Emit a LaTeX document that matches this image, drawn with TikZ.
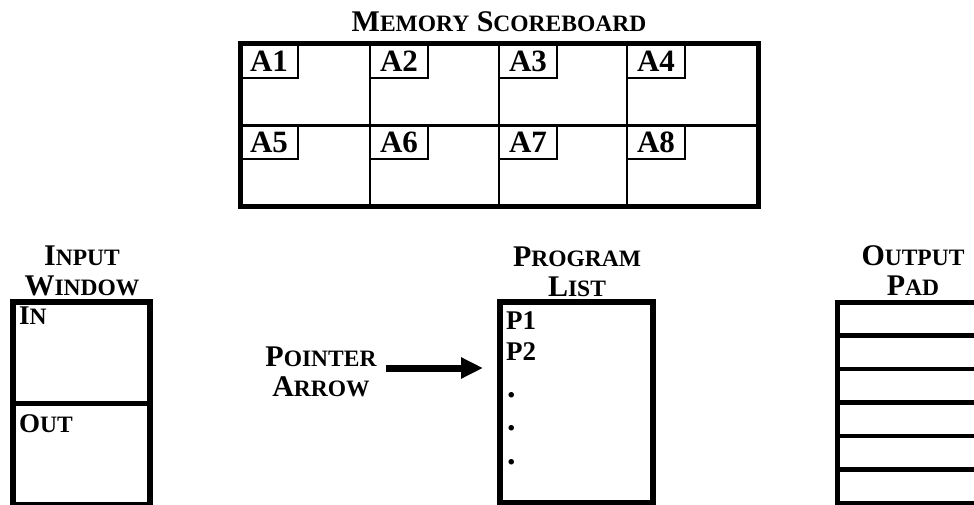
\documentclass[tikz,border=0pt]{standalone}
\usepackage{fontspec}
\setmainfont{Liberation Serif}
\usetikzlibrary{arrows.meta, positioning, calc}

% a word set in capitals and small capitals
\newcommand\capword[2]{#1{\fontsize{23.5}{30}\selectfont #2}}

\begin{document}
\begin{tikzpicture}[
    x=1pt, y=-1pt,
    every node/.style={font=\bfseries},
]

% ---------------------------------------------------------------- styles
\tikzset{
    frame/.style={draw=black, line width=5.5pt, inner sep=0pt, outer sep=0pt,
                  anchor=north west},
    rule/.style={black, line width=2.8pt},
    tag/.style={draw=black, line width=2.8pt, anchor=north west,
                inner sep=0pt, outer sep=0pt,
                minimum width=58pt, minimum height=34pt,
                font=\bfseries\fontsize{31}{32}\selectfont},
    title/.style={align=center, font=\bfseries\fontsize{30}{30}\selectfont},
    entry/.style={anchor=west, inner sep=0pt,
                  font=\bfseries\fontsize{27}{28}\selectfont},
    pointer/.style={black, line width=7pt,
                    -{Triangle[length=22pt, width=20pt]}},
}

\clip (0,0) rectangle (974,505);

% ----------------------------------------------------------------------
% memory scoreboard: 4 x 2 cells, each with its tag in the corner
% ----------------------------------------------------------------------
\node[title] (boardtitle) at (499,22) {\capword{M}{EMORY} \capword{S}{COREBOARD}};
\node[frame, line width=5pt, minimum width=518pt, minimum height=163pt]
    (board) at (240,44) {};
\draw[rule] (board.west) -- (board.east);
\foreach \x in {130,259,387}
    \draw[rule] ([xshift=\x pt]board.north west) -- ([xshift=\x pt]board.south west);

\foreach \n/\x/\y in {1/240/44, 2/370/44, 3/499/44, 4/627/44,
                      5/240/125, 6/370/125, 7/499/125, 8/627/125}
    \node[tag] (a\n) at (\x,\y) {A\n};

% ----------------------------------------------------------------------
% input window
% ----------------------------------------------------------------------
\node[title] (intitle) at (82,271) {\capword{I}{NPUT}\\\capword{W}{INDOW}};
\node[frame, minimum width=137pt, minimum height=203pt] (inwin) at (13,302) {};
\draw[rule, line width=5.5pt] (inwin.west) -- (inwin.east);
\node[entry] (inlbl) at (19,316) {\capword{I}{N}};
\node[entry] (outlbl) at (19,424) {\capword{O}{UT}};

% ----------------------------------------------------------------------
% pointer arrow and program list
% ----------------------------------------------------------------------
\node[title] (ptr) at (321,372) {\capword{P}{OINTER}\\\capword{A}{RROW}};

\node[title] (ptitle) at (577,272) {\capword{P}{ROGRAM}\\\capword{L}{IST}};
\node[frame, minimum width=153pt, minimum height=201pt] (plist) at (500,302) {};
\node[entry] (p1) at (506,321) {P1};
\node[entry] (p2) at (506,352) {P2};
\foreach \y [count=\i] in {395,428,462}
    \node[entry, font=\bfseries\fontsize{34}{34}\selectfont] (dot\i) at (507,\y) {.};

\coordinate (tip) at (483,368);
\draw[pointer] (ptr.east |- tip) ++(6,0) -- (tip);

% ----------------------------------------------------------------------
% output pad: six ruled lines, runs off the right edge
% ----------------------------------------------------------------------
\node[title] (otitle) at (913,271) {\capword{O}{UTPUT}\\\capword{P}{AD}};
\node[frame, line width=5pt, minimum width=160pt, minimum height=201pt]
    (pad) at (837,302) {};
\foreach \k in {1,...,5}
    \draw[rule, line width=4.5pt] ($(pad.north west)+(0,\k*33.5)$) -- ++(160,0);

\end{tikzpicture}
\end{document}
